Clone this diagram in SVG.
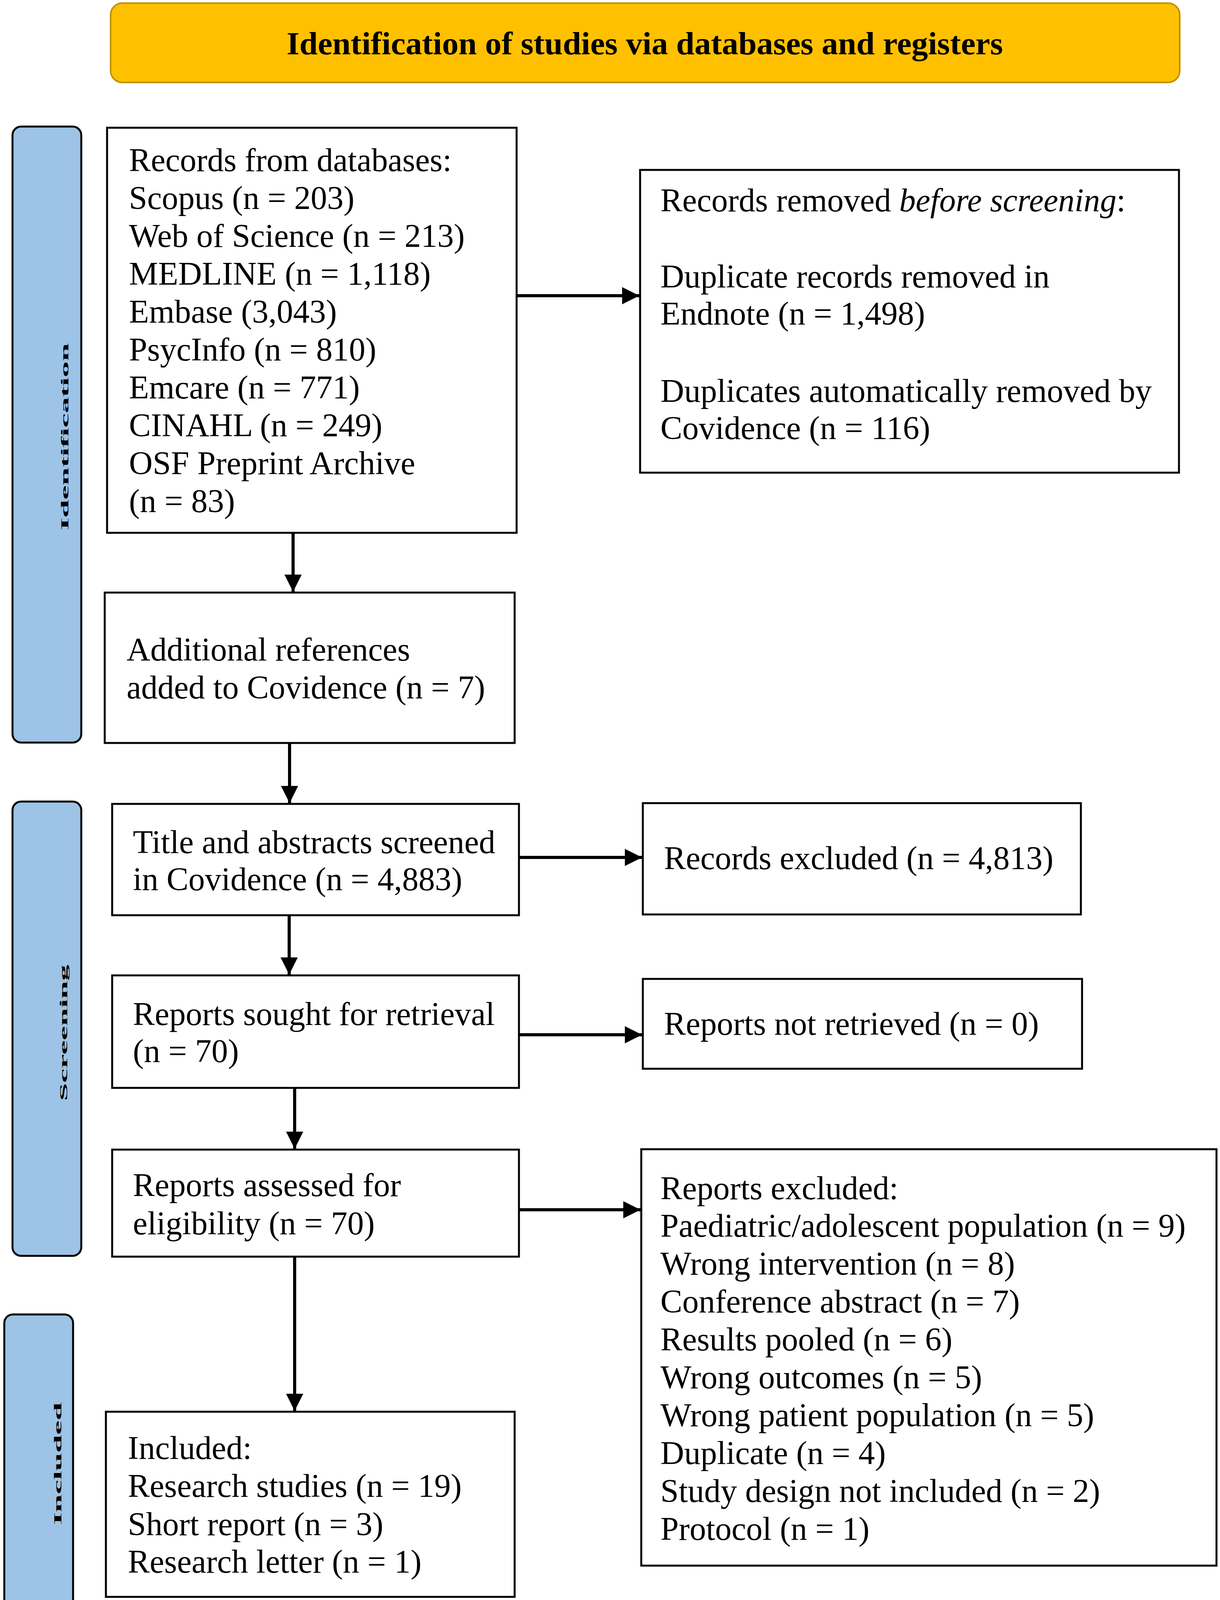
<svg xmlns="http://www.w3.org/2000/svg" width="3122" height="4137" viewBox="0 0 3122 4137">
<style>
.box{fill:#ffffff;stroke:#000000;stroke-width:5}
.side{fill:#9DC3E6;stroke:#000000;stroke-width:5}
.t{font-family:"Liberation Serif","Times New Roman",serif;font-size:84px;fill:#000000}
.sl{font-family:"Liberation Serif","Times New Roman",serif;font-size:83px;font-weight:bold;fill:#000000}
.conn{stroke:#000000;stroke-width:8;fill:none}
</style>
<defs>
<marker id="ah" markerUnits="userSpaceOnUse" markerWidth="46" markerHeight="46" refX="44" refY="22" orient="auto" viewBox="0 0 46 44">
<path d="M0,0 L44,22 L0,44 Z" fill="#000000"/>
</marker>
</defs>
<rect width="3122" height="4137" fill="#ffffff"/>

<g id="banner">
<rect x="283" y="8" width="2736" height="203" rx="30" ry="30" fill="#FFC000" stroke="#BF9000" stroke-width="4"/>
<text x="1650" y="139" text-anchor="middle" font-family="Liberation Serif, Times New Roman, serif" font-size="82" font-weight="bold" textLength="1833" lengthAdjust="spacingAndGlyphs">Identification of studies via databases and registers</text>
</g>

<g id="side-identification">
<rect class="side" x="32" y="324" width="176" height="1577" rx="22" ry="22"/>
<text class="sl" transform="translate(175,1118) rotate(-90) scale(1,0.32)" text-anchor="middle">Identification</text>
</g>
<g id="side-screening">
<rect class="side" x="32" y="2052" width="176" height="1163" rx="22" ry="22"/>
<text class="sl" transform="translate(172,2644) rotate(-90) scale(1,0.32)" text-anchor="middle">Screening</text>
</g>
<g id="side-included">
<rect class="side" x="11" y="3365" width="176" height="762" rx="22" ry="22"/>
<text class="sl" transform="translate(157,3747) rotate(-90) scale(1,0.32)" text-anchor="middle">Included</text>
</g>

<g id="records-databases">
<rect class="box" x="274" y="327" width="1048" height="1037"/>
<text class="t" x="330" y="438">Records from databases:</text>
<text class="t" x="330" y="535">Scopus (n = 203)</text>
<text class="t" x="330" y="632">Web of Science (n = 213)</text>
<text class="t" x="330" y="729">MEDLINE (n = 1,118)</text>
<text class="t" x="330" y="826">Embase (3,043)</text>
<text class="t" x="330" y="923">PsycInfo (n = 810)</text>
<text class="t" x="330" y="1020">Emcare (n = 771)</text>
<text class="t" x="330" y="1117">CINAHL (n = 249)</text>
<text class="t" x="330" y="1214">OSF Preprint Archive</text>
<text class="t" x="330" y="1311">(n = 83)</text>
</g>

<g id="records-removed">
<rect class="box" x="1638" y="435" width="1379" height="775"/>
<text class="t" x="1690" y="541">Records removed <tspan font-style="italic">before screening</tspan>:</text>
<text class="t" x="1690" y="736">Duplicate records removed in</text>
<text class="t" x="1690" y="831">Endnote (n = 1,498)</text>
<text class="t" x="1690" y="1029">Duplicates automatically removed by</text>
<text class="t" x="1690" y="1124">Covidence (n = 116)</text>
</g>

<g id="additional-references">
<rect class="box" x="268" y="1517" width="1049" height="385"/>
<text class="t" x="324" y="1691">Additional references</text>
<text class="t" x="324" y="1788">added to Covidence (n = 7)</text>
</g>

<g id="title-abstracts">
<rect class="box" x="287" y="2058" width="1041" height="285"/>
<text class="t" x="340" y="2184">Title and abstracts screened</text>
<text class="t" x="340" y="2279">in Covidence (n = 4,883)</text>
</g>

<g id="records-excluded">
<rect class="box" x="1645" y="2056" width="1121" height="285"/>
<text class="t" x="1699" y="2225">Records excluded (n = 4,813)</text>
</g>

<g id="reports-sought">
<rect class="box" x="287" y="2497" width="1041" height="288"/>
<text class="t" x="340" y="2624">Reports sought for retrieval</text>
<text class="t" x="340" y="2719">(n = 70)</text>
</g>

<g id="reports-not-retrieved">
<rect class="box" x="1645" y="2506" width="1124" height="230"/>
<text class="t" x="1699" y="2649">Reports not retrieved (n = 0)</text>
</g>

<g id="reports-assessed">
<rect class="box" x="287" y="2943" width="1041" height="274"/>
<text class="t" x="340" y="3062">Reports assessed for</text>
<text class="t" x="340" y="3160">eligibility (n = 70)</text>
</g>

<g id="reports-excluded">
<rect class="box" x="1641" y="2942" width="1472" height="1066"/>
<text class="t" x="1690" y="3070">Reports excluded:</text>
<text class="t" x="1690" y="3166">Paediatric/adolescent population (n = 9)</text>
<text class="t" x="1690" y="3263">Wrong intervention (n = 8)</text>
<text class="t" x="1690" y="3360">Conference abstract (n = 7)</text>
<text class="t" x="1690" y="3457">Results pooled (n = 6)</text>
<text class="t" x="1690" y="3554">Wrong outcomes (n = 5)</text>
<text class="t" x="1690" y="3651">Wrong patient population (n = 5)</text>
<text class="t" x="1690" y="3748">Duplicate (n = 4)</text>
<text class="t" x="1690" y="3845">Study design not included (n = 2)</text>
<text class="t" x="1690" y="3942">Protocol (n = 1)</text>
</g>

<g id="included">
<rect class="box" x="271" y="3614" width="1046" height="474"/>
<text class="t" x="327" y="3735">Included:</text>
<text class="t" x="327" y="3832">Research studies (n = 19)</text>
<text class="t" x="327" y="3930">Short report (n = 3)</text>
<text class="t" x="327" y="4026">Research letter (n = 1)</text>
</g>

<g id="connectors">
<line class="conn" x1="1322" y1="757" x2="1636" y2="757" marker-end="url(#ah)"/>
<line class="conn" x1="750" y1="1364" x2="750" y2="1515" marker-end="url(#ah)"/>
<line class="conn" x1="741" y1="1902" x2="741" y2="2056" marker-end="url(#ah)"/>
<line class="conn" x1="1328" y1="2195" x2="1643" y2="2195" marker-end="url(#ah)"/>
<line class="conn" x1="740" y1="2343" x2="740" y2="2495" marker-end="url(#ah)"/>
<line class="conn" x1="1328" y1="2649" x2="1643" y2="2649" marker-end="url(#ah)"/>
<line class="conn" x1="754" y1="2785" x2="754" y2="2941" marker-end="url(#ah)"/>
<line class="conn" x1="1328" y1="3097" x2="1639" y2="3097" marker-end="url(#ah)"/>
<line class="conn" x1="754" y1="3217" x2="754" y2="3612" marker-end="url(#ah)"/>
</g>
</svg>
